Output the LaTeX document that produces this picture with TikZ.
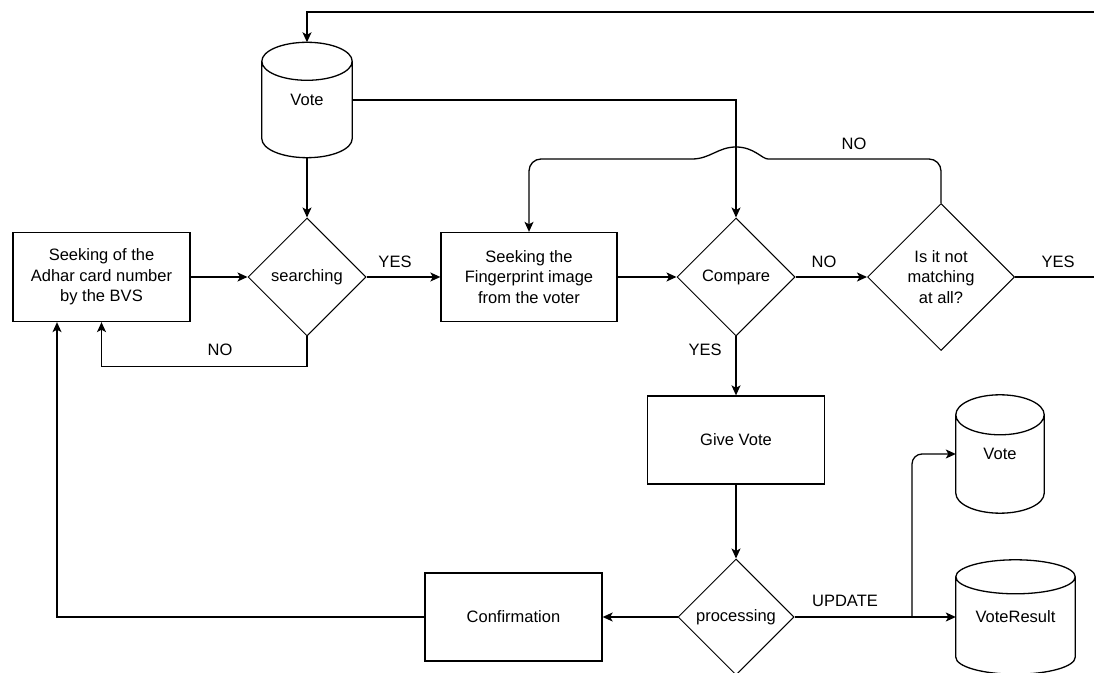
\documentclass[tikz,border=0pt]{standalone}
\usepackage{fontspec}
\setmainfont{Liberation Sans}
\usetikzlibrary{shapes.geometric,arrows.meta,calc}
\newcommand\dbshape[2]{%
  \draw[line width=1.3pt] let \p1=(#1.north west), \p2=(#1.south east), \n1={(\x2-\x1)/2} in
    (\x1,{\y1-#2}) -- (\x1,{\y2+#2})
    arc[start angle=180,end angle=360,x radius=\n1,y radius=#2]
    -- (\x2,{\y1-#2})
    arc[start angle=0,end angle=180,x radius=\n1,y radius=#2] -- cycle
    (\x1,{\y1-#2}) arc[start angle=180,end angle=360,x radius=\n1,y radius=#2];}
\begin{document}
\begin{tikzpicture}[x=1pt,y=1pt,
  font=\fontsize{16.5}{20.7}\selectfont,
  box/.style={draw, line width=1.3pt, minimum width=177pt, minimum height=89pt, align=center, inner sep=0pt},
  dia/.style={draw, diamond, line width=1pt, minimum width=118pt, minimum height=118pt, inner sep=0pt, align=center, aspect=1},
  dbn/.style={rectangle, inner sep=0pt, align=center},
  arr/.style={line width=1.3pt, -{Stealth[length=10pt,width=9pt,inset=2.5pt]}},
  lbl/.style={inner sep=0pt}
]
\useasboundingbox (0,0) rectangle (1094,672);
\clip (0,0) rectangle (1094,672);

% nodes
\node[dbn, minimum width=90pt, minimum height=115pt] (v1) at (307,572) {Vote};
\dbshape{v1}{19pt}
\node[box] (adhar) at (101.5,395) {Seeking of the\\Adhar card number\\by the BVS};
\node[dia] (srch) at (307,395) {searching};
\node[box, minimum width=176pt] (fp) at (529,395) {Seeking the\\Fingerprint image\\from the voter};
\node[dia] (cmp) at (736,395) {Compare};
\node[dia, minimum width=147pt, minimum height=147pt] (d2) at (941,395) {Is it not\\matching\\at all?};
\node[box, minimum height=88pt] (gv) at (736,232) {Give Vote};
\node[dia, minimum width=116pt, minimum height=116pt] (proc) at (736,55) {processing};
\node[box, minimum height=88pt] (conf) at (513.5,55) {Confirmation};
\node[dbn, minimum width=88pt, minimum height=118pt] (v2) at (1000,218) {Vote};
\dbshape{v2}{20pt}
\node[dbn, minimum width=119pt, minimum height=114pt] (vr) at (1015.5,55) {VoteResult};
\dbshape{vr}{17pt}

% coordinates
\coordinate (rtop) at (1097,660);
\coordinate (br) at (912,55);

% connectors
\draw[arr] (d2.east) -| (rtop) -| (v1.north);
\draw[arr] (v1.east) -| (cmp.north);
\draw[arr] (v1.south) -- (srch.north);
\draw[arr] (adhar.east) -- (srch.west);
\draw[arr] (srch.east) -- (fp.west);
\draw[arr] (fp.east) -- (cmp.west);
\draw[arr] (cmp.east) -- (d2.west);
\draw[arr] (d2.north) [rounded corners=12pt] |- (780,513) [sharp corners]
   .. controls (762,513) and (754,525) .. (736,525)
   .. controls (718,525) and (710,513) .. (692,513)
   [rounded corners=12pt] -| (fp.north);
\draw[arr] (srch.south) -- ++(0,-30) -| (adhar.south);
\draw[arr] (cmp.south) -- (gv.north);
\draw[arr] (gv.south) -- (proc.north);
\draw[arr] (proc.west) -- (conf.east);
\draw[arr] (conf.west) -| ([xshift=-44.5pt]adhar.south);
\draw[arr] (proc.east) -- (vr.west);
\draw[arr, rounded corners=10pt] (br) |- (v2.west);

% labels
\node[lbl] (l1) at (395,410) {YES};
\node[lbl] (l2) at (824,410) {NO};
\node[lbl] (l3) at (1058,410) {YES};
\node[lbl] (l4) at (854,528) {NO};
\node[lbl] (l5) at (220,322) {NO};
\node[lbl] (l6) at (705,322) {YES};
\node[lbl] (l7) at (845,71) {UPDATE};
\end{tikzpicture}
\end{document}
